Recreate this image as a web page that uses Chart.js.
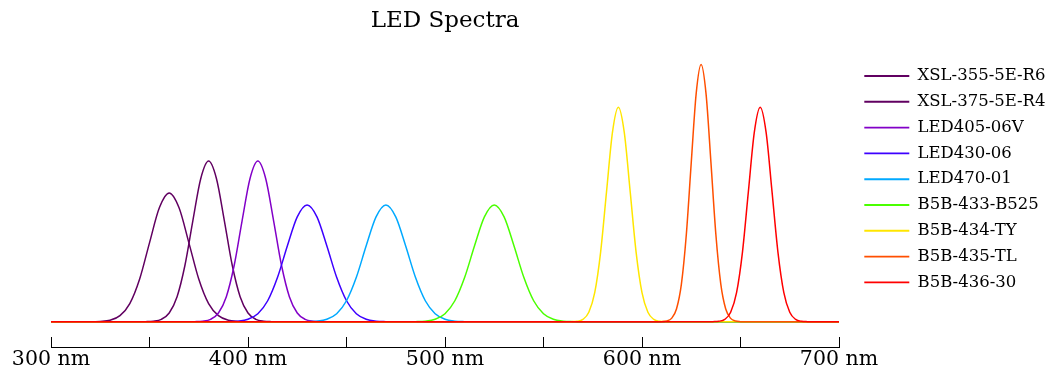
<!DOCTYPE html>
<html>
<head>
<meta charset="utf-8">
<title>LED Spectra</title>
<script src="https://cdn.jsdelivr.net/npm/chart.js@4.4.1/dist/chart.umd.min.js"></script>
<style>
  html, body { margin: 0; padding: 0; background: #ffffff; }
  canvas { display: block; }
</style>
</head>
<body>
<canvas id="c" width="1054" height="380"></canvas>
<script>
// ---------------- data ----------------
const seriesNames = ['XSL-355-5E-R6', 'XSL-375-5E-R4', 'LED405-06V', 'LED430-06', 'LED470-01',
                     'B5B-433-B525', 'B5B-434-TY', 'B5B-435-TL', 'B5B-436-30'];

const xsl355_nm  = [300, 320, 325, 330, 335, 340, 345, 350, 355, 360, 365, 370, 375, 380, 385, 390, 395, 400, 700];
const xsl355_int = [0, 0, 0.003, 0.013, 0.052, 0.155, 0.366, 0.676, 0.976, 1.103, 0.976, 0.676, 0.366, 0.155, 0.052, 0.013, 0.003, 0, 0];

const xsl375_nm  = [300, 344, 348, 352, 356, 360, 364, 368, 372, 376, 380, 384, 388, 392, 396, 400, 404, 408, 412, 416, 700];
const xsl375_int = [0, 0, 0.001, 0.005, 0.021, 0.075, 0.215, 0.484, 0.865, 1.225, 1.376, 1.225, 0.865, 0.484, 0.215, 0.075, 0.021, 0.005, 0.001, 0, 0];

const led405_nm  = [300, 369, 373, 377, 381, 385, 389, 393, 397, 401, 405, 409, 413, 417, 421, 425, 429, 433, 437, 441, 700];
const led405_int = [0, 0, 0.001, 0.005, 0.021, 0.075, 0.215, 0.484, 0.865, 1.225, 1.376, 1.225, 0.865, 0.484, 0.215, 0.075, 0.021, 0.005, 0.001, 0, 0];

const led430_nm  = [300, 385, 390, 395, 400, 405, 410, 415, 420, 425, 430, 435, 440, 445, 450, 455, 460, 465, 470, 475, 700];
const led430_int = [0, 0, 0.001, 0.005, 0.021, 0.069, 0.180, 0.381, 0.651, 0.898, 1.000, 0.898, 0.651, 0.381, 0.180, 0.069, 0.021, 0.005, 0.001, 0, 0];

const led470_nm  = [300, 425, 430, 435, 440, 445, 450, 455, 460, 465, 470, 475, 480, 485, 490, 495, 500, 505, 510, 515, 700];
const led470_int = [0, 0, 0.001, 0.005, 0.021, 0.069, 0.180, 0.381, 0.651, 0.898, 1.000, 0.898, 0.651, 0.381, 0.180, 0.069, 0.021, 0.005, 0.001, 0, 0];

const b5b433_nm  = [300, 480, 485, 490, 495, 500, 505, 510, 515, 520, 525, 530, 535, 540, 545, 550, 555, 560, 565, 570, 700];
const b5b433_int = [0, 0, 0.001, 0.005, 0.021, 0.069, 0.180, 0.381, 0.651, 0.898, 1.000, 0.898, 0.651, 0.381, 0.180, 0.069, 0.021, 0.005, 0.001, 0, 0];

const b5b434_nm  = [300, 561, 564, 567, 570, 573, 576, 579, 582, 585, 588, 591, 594, 597, 600, 603, 606, 609, 612, 615, 700];
const b5b434_int = [0, 0, 0.001, 0.004, 0.020, 0.081, 0.249, 0.597, 1.115, 1.622, 1.838, 1.622, 1.115, 0.597, 0.249, 0.081, 0.020, 0.004, 0.001, 0, 0];

const b5b435_nm  = [300, 607.5, 610, 612.5, 615, 617.5, 620, 622.5, 625, 627.5, 630, 632.5, 635, 637.5, 640, 642.5, 645, 647.5, 650, 652.5, 700];
const b5b435_int = [0, 0, 0.001, 0.006, 0.029, 0.109, 0.322, 0.747, 1.363, 1.954, 2.203, 1.954, 1.363, 0.747, 0.322, 0.109, 0.029, 0.006, 0.001, 0, 0];

const b5b436_nm  = [300, 633, 636, 639, 642, 645, 648, 651, 654, 657, 660, 663, 666, 669, 672, 675, 678, 681, 684, 687, 700];
const b5b436_int = [0, 0, 0.001, 0.004, 0.020, 0.081, 0.249, 0.597, 1.115, 1.622, 1.838, 1.622, 1.115, 0.597, 0.249, 0.081, 0.020, 0.004, 0.001, 0, 0];

const xTickValues = [300, 400, 500, 600, 700];   // labelled ticks
const xUnit = 'nm';

// ---------------- styles ----------------
const seriesColors = ['rgb(97,0,97)', 'rgb(97,0,97)', 'rgb(130,0,200)', 'rgb(61,0,255)', 'rgb(0,169,255)',
                      'rgb(74,255,0)', 'rgb(255,230,0)', 'rgb(255,79,0)', 'rgb(255,0,0)'];

const nmArrays  = [xsl355_nm, xsl375_nm, led405_nm, led430_nm, led470_nm, b5b433_nm, b5b434_nm, b5b435_nm, b5b436_nm];
const intArrays = [xsl355_int, xsl375_int, led405_int, led430_int, led470_int, b5b433_int, b5b434_int, b5b435_int, b5b436_int];

const SERIF = "'DejaVu Serif', 'Liberation Serif', serif";
Chart.defaults.font.family = SERIF;
Chart.defaults.color = '#000';

const datasets = seriesNames.map((name, i) => ({
  label: name,
  data: nmArrays[i].map((x, j) => ({ x: x, y: intArrays[i][j] })),
  borderColor: seriesColors[i],
  backgroundColor: seriesColors[i],
  borderWidth: 1.5,
  pointRadius: 0,
  pointHoverRadius: 0,
  fill: false,
  cubicInterpolationMode: 'monotone',
  order: seriesNames.length - 1 - i
}));

// legend placement relative to the plot area
const LEGEND_GAP = 25.3;      // plot right edge -> legend line start
const LEGEND_FIRST_Y = 76;    // centre of first legend row
const legendPlacer = {
  id: 'legendPlacer',
  afterLayout(chart) {
    const lg = chart.legend;
    if (!lg) return;
    const pad = lg.options.labels.padding;
    const fs = lg.options.labels.font.size;
    const dx = chart.chartArea.right + LEGEND_GAP - (lg.left + pad);
    const dy = LEGEND_FIRST_Y - fs / 2 - (lg.top + pad);
    lg.left += dx; lg.right += dx;
    lg.top += dy; lg.bottom += dy;
  }
};

new Chart(document.getElementById('c'), {
  type: 'line',
  data: { datasets: datasets },
  plugins: [legendPlacer],
  options: {
    responsive: false,
    animation: false,
    devicePixelRatio: 1,
    layout: { padding: { left: 51, right: 25, top: 0, bottom: -2 } },
    plugins: {
      tooltip: { enabled: false },
      title: {
        display: true,
        text: 'LED Spectra',
        fullSize: false,
        color: '#000',
        font: { family: SERIF, size: 23, weight: 'normal' },
        padding: { top: 6.8, bottom: 6.2 }
      },
      legend: {
        display: true,
        position: 'right',
        align: 'start',
        maxWidth: 190,
        labels: {
          usePointStyle: true,
          pointStyle: 'line',
          pointStyleWidth: 45,
          padding: 9.3,
          color: '#000',
          font: { family: SERIF, size: 16.5, weight: 'normal' },
          sort: (a, b) => a.datasetIndex - b.datasetIndex,
          generateLabels: (chart) => {
            const items = Chart.defaults.plugins.legend.labels.generateLabels(chart);
            items.forEach(it => { it.lineWidth = 1.9; });
            return items;
          }
        }
      }
    },
    scales: {
      x: {
        type: 'linear',
        position: 'bottom',
        min: 300,
        max: 700,
        grid: {
          display: true,
          drawOnChartArea: false,
          drawTicks: true,
          tickLength: -10,
          color: '#000',
          lineWidth: 1
        },
        border: { display: true, color: '#000', width: 1 },
        ticks: {
          stepSize: 50,
          autoSkip: false,
          maxRotation: 0,
          minRotation: 0,
          padding: 10.2,
          color: '#000',
          font: { family: SERIF, size: 20.5, weight: 'normal' },
          callback: (v) => xTickValues.includes(v) ? v + ' ' + xUnit : ''
        }
      },
      y: {
        type: 'linear',
        display: false,
        min: -0.2162,
        max: 2.408
      }
    }
  }
});
</script>
</body>
</html>
